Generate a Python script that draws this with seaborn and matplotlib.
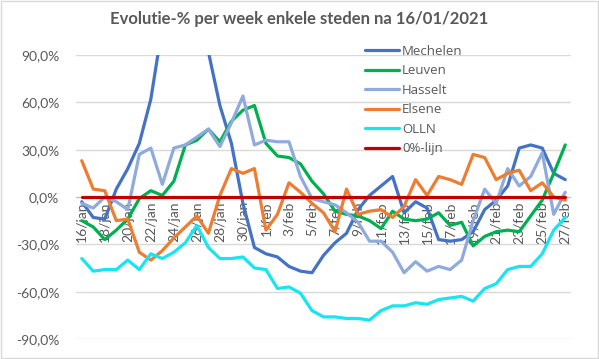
# evolutie-% per week voor enkele steden, na 16/01/2021

import pandas as pd
import matplotlib.pyplot as plt
import seaborn as sns
from matplotlib.patches import Rectangle
from matplotlib.ticker import FixedLocator, FuncFormatter

# data (in %)
dagen = [f"{d}/jan" for d in range(16, 32)] + [f"{d}/feb" for d in range(1, 28)]

mechelen = [-3, -13, -14, 5, 18, 34, 62, 108, 125, 120, 105, 92, 58, 34, -4, -32,
            -36, -38, -44, -47, -48, -37, -29, -23, -8, 1, 7, 13, -10, -3, -7, -27,
            -28, -27, -22, -8, -2, 7, 31, 33, 31, 15, 11]
leuven = [-15, -19, -27, -21, -14, -1, 4, 1, 10, 33, 36, 43, 35, 48, 55, 58,
          34, 26, 25, 21, 10, 2, -9, -11, -12, -15, -20, -9, -14, -15, -14, -10,
          -18, -16, -31, -25, -22, -21, -22, -12, -2, 15, 33]
hasselt = [-4, -7, 0, -3, -8, 27, 31, 8, 31, 33, 38, 43, 32, 47, 64, 33,
           36, 35, 35, 13, -1, -3, -5, -10, -16, -28, -28, -35, -48, -41, -47, -44,
           -46, -40, -15, 5, -4, 18, 7, 13, 28, -11, 3]
elsene = [23, 5, 4, -15, -14, -35, -40, -34, -26, -19, -12, -23, 1, 18, 15, 18,
          -21, -11, 9, 3, -4, -10, -22, 5, -11, -9, -8, -13, -6, 11, 1, 13,
          11, 8, 27, 25, 11, 15, 17, 4, 9, 0, -2]
olln = [-39, -47, -46, -46, -40, -46, -36, -39, -35, -29, -18, -32, -39, -39, -38, -45,
        -46, -58, -57, -61, -72, -76, -76, -77, -77, -78, -72, -69, -69, -67, -68, -65,
        -64, -63, -66, -58, -55, -46, -44, -44, -36, -21, -13]
nullijn = [0] * len(dagen)

steden = ["Mechelen", "Leuven", "Hasselt", "Elsene", "OLLN", "0%-lijn"]
kleuren = {"Mechelen": "#4472C4", "Leuven": "#00B050", "Hasselt": "#8FAADC",
           "Elsene": "#ED7D31", "OLLN": "#17E5F2", "0%-lijn": "#C00000"}

# long formaat voor seaborn
reeksen = [mechelen, leuven, hasselt, elsene, olln, nullijn]
df = pd.concat([pd.DataFrame({"dag": range(len(dagen)), "pct": r, "stad": s})
                for s, r in zip(steden, reeksen)], ignore_index=True)

sns.set_style("white")
plt.rcParams["font.family"] = ["Lato", "DejaVu Sans"]
grijs = "#595959"

fig = plt.figure(figsize=(5.99, 3.59), dpi=100)
ax = fig.add_axes([76 / 599, 1 - 339 / 359, 495 / 599, 284 / 359])

# rasterlijnen
for v in [-90, -60, -30, 30, 60, 90]:
    ax.axhline(v, color="#D9D9D9", lw=1, zorder=0)
ax.axhline(0, color="#BFBFBF", lw=1, zorder=0)

sns.lineplot(data=df, x="dag", y="pct", hue="stad", hue_order=steden,
             palette=kleuren, linewidth=2.3, ax=ax, legend=True)

ax.set_xlim(-0.5, len(dagen) - 0.5)
ax.set_ylim(-90, 90)
for s in ax.spines.values():
    s.set_visible(False)

ax.set_yticks([-90, -60, -30, 0, 30, 60, 90])
ax.yaxis.set_major_formatter(FuncFormatter(lambda v, p: f"{v:.1f}%".replace(".", ",")))
ax.tick_params(axis="y", length=0, labelsize=10, labelcolor=grijs, pad=12)

# x-as op de nullijn
ax.spines["bottom"].set_position(("data", 0))
ax.xaxis.set_major_locator(FixedLocator(list(range(0, len(dagen), 2))))
ax.set_xticklabels(dagen[::2], rotation=90, va="top", ha="center")
ax.tick_params(axis="x", length=0, labelsize=10, labelcolor=grijs, pad=3)
ax.xaxis.set_minor_locator(FixedLocator([i - 0.5 for i in range(0, len(dagen) + 1, 2)]))
ax.tick_params(axis="x", which="minor", length=4, color="#BFBFBF", width=1)
ax.set_xlabel("")
ax.set_ylabel("")

handles, labels = ax.get_legend_handles_labels()
leg = ax.legend(handles, labels, loc="upper left", frameon=False,
                bbox_to_anchor=(365 / 599, 1 - 45 / 359), bbox_transform=fig.transFigure,
                prop={"family": "Open Sans", "size": 9.5}, handlelength=2.6,
                handletextpad=0.2, labelspacing=0.49, borderpad=0, borderaxespad=0)
for t in leg.get_texts():
    t.set_color(grijs)

fig.text(0.5, 1 - 19 / 359, "Evolutie-% per week enkele steden na 16/01/2021",
         ha="center", va="center", fontsize=12, fontweight="bold", color=grijs)

# rand rond de grafiek
fig.patches.append(Rectangle((0.001, 0.002), 0.997, 0.995, transform=fig.transFigure,
                             fill=False, edgecolor="#D9D9D9", lw=1))

fig.savefig("out.png", dpi=100)
